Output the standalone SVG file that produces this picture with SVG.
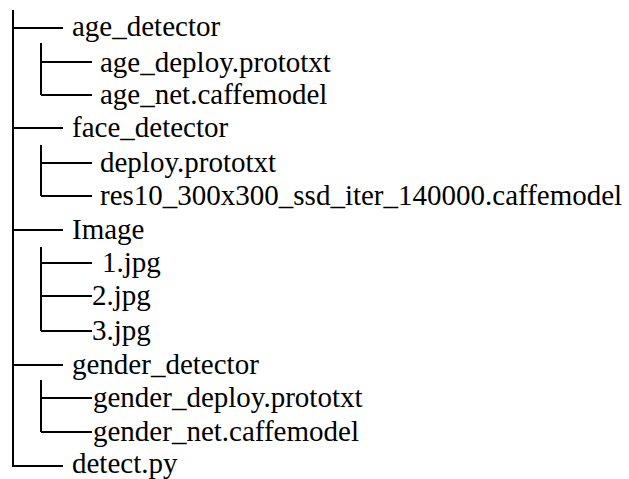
<svg xmlns="http://www.w3.org/2000/svg" width="629" height="479" viewBox="0 0 629 479">
<rect width="629" height="479" fill="#fff"/>
<g id="connectors" stroke="#000" stroke-width="2" fill="none">
<line x1="13" y1="10" x2="13" y2="466"/>
<line x1="13" y1="28" x2="63" y2="28"/>
<line x1="41" y1="43" x2="41" y2="95"/>
<line x1="41" y1="62" x2="92" y2="62"/>
<line x1="41" y1="95" x2="92" y2="95"/>
<line x1="13" y1="128" x2="63" y2="128"/>
<line x1="41" y1="145" x2="41" y2="196"/>
<line x1="41" y1="163" x2="92" y2="163"/>
<line x1="41" y1="196" x2="92" y2="196"/>
<line x1="13" y1="230" x2="63" y2="230"/>
<line x1="41" y1="247" x2="41" y2="331"/>
<line x1="41" y1="263" x2="92" y2="263"/>
<line x1="41" y1="296" x2="92" y2="296"/>
<line x1="41" y1="331" x2="92" y2="331"/>
<line x1="13" y1="365" x2="63" y2="365"/>
<line x1="41" y1="380" x2="41" y2="432"/>
<line x1="41" y1="398" x2="92" y2="398"/>
<line x1="41" y1="432" x2="92" y2="432"/>
<line x1="12" y1="466" x2="63" y2="466"/>
</g>
<g id="age_detector"><text x="72" y="36" font-family="Times New Roman, Liberation Serif, serif" font-size="29">age_detector</text></g>
<g id="age_deploy"><text x="100" y="72" font-family="Times New Roman, Liberation Serif, serif" font-size="29">age_deploy.prototxt</text></g>
<g id="age_net"><text x="100" y="104" font-family="Times New Roman, Liberation Serif, serif" font-size="29">age_net.caffemodel</text></g>
<g id="face_detector"><text x="72" y="137" font-family="Times New Roman, Liberation Serif, serif" font-size="29">face_detector</text></g>
<g id="deploy"><text x="100" y="172" font-family="Times New Roman, Liberation Serif, serif" font-size="29">deploy.prototxt</text></g>
<g id="res10"><text x="100" y="205" font-family="Times New Roman, Liberation Serif, serif" font-size="29">res10_300x300_ssd_iter_140000.caffemodel</text></g>
<g id="image"><text x="72" y="239" font-family="Times New Roman, Liberation Serif, serif" font-size="29">Image</text></g>
<g id="jpg1"><text x="102" y="272" font-family="Times New Roman, Liberation Serif, serif" font-size="29">1.jpg</text></g>
<g id="jpg2"><text x="92" y="305" font-family="Times New Roman, Liberation Serif, serif" font-size="29">2.jpg</text></g>
<g id="jpg3"><text x="92" y="340" font-family="Times New Roman, Liberation Serif, serif" font-size="29">3.jpg</text></g>
<g id="gender_detector"><text x="72" y="374" font-family="Times New Roman, Liberation Serif, serif" font-size="29">gender_detector</text></g>
<g id="gender_deploy"><text x="93" y="407" font-family="Times New Roman, Liberation Serif, serif" font-size="29">gender_deploy.prototxt</text></g>
<g id="gender_net"><text x="93" y="441" font-family="Times New Roman, Liberation Serif, serif" font-size="29">gender_net.caffemodel</text></g>
<g id="detect"><text x="72" y="473" font-family="Times New Roman, Liberation Serif, serif" font-size="29">detect.py</text></g>
</svg>
